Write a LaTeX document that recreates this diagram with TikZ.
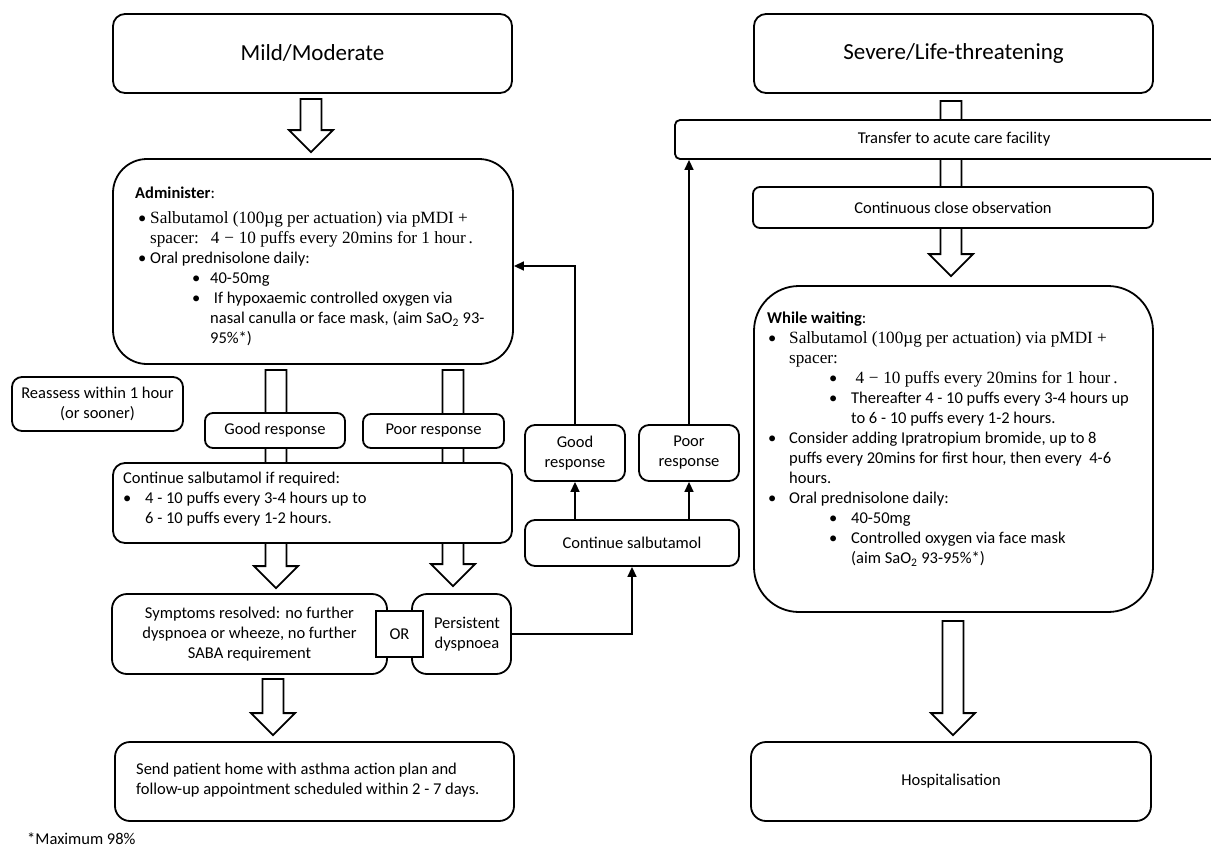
\documentclass[tikz,border=0pt]{standalone}
\usepackage{fontspec}
\setmainfont{Carlito}
\newfontfamily\cambriafont{Liberation Serif}
\usetikzlibrary{arrows.meta,calc,backgrounds}
\newcommand\sr{\cambriafont\fontsize{17.2}{20}\selectfont}
\newcommand\bitem[3]{\hspace*{#1}\makebox[#2][l]{•}#3}
\newcommand\bcont[2]{\hspace*{#1}#2}
\newcommand\blockarrow[2]{%
  \path[barrow] let \p1=(#1), \p2=(#2) in
  (\x1-10.5pt,\y1) -- (\x1+10.5pt,\y1) -- (\x1+10.5pt,\y2+22pt) -- (\x1+22pt,\y2+22pt)
  -- (\x1,\y2) -- (\x1-22pt,\y2+22pt) -- (\x1-10.5pt,\y2+22pt) -- cycle;}
\tikzset{
  box/.style={draw, line width=1.8pt, fill=white, rounded corners=#1, inner sep=0pt},
  box/.default=12pt,
  body/.style={font=\fontsize{16.5}{20}\selectfont},
  head/.style={font=\fontsize{23}{28}\selectfont},
  barrow/.style={draw, line width=1.8pt, fill=white, line join=miter},
  arr/.style={line width=1.5pt, -{Triangle[length=10pt,width=9pt]}},
  txt/.style={body, anchor=north west, align=left, inner sep=0pt}
}
\begin{document}
\begin{tikzpicture}[x=1pt,y=-1pt]
\useasboundingbox (0,0) rectangle (1211,849);
\clip (0,0) rectangle (1211,849);

% left column
\node[box=12pt, head, minimum width=399pt, minimum height=79pt] (mild) at (312.5,53.5) {Mild/Moderate};
\node[box=34pt, minimum width=400pt, minimum height=205pt] (admin) at (313,261.5) {};
\node[txt] (admintext) at (135,187) {\textbf{Administer}:\\[5pt]
\bitem{3pt}{12pt}{\sr Salbutamol (100µg per actuation) via pMDI +}\\
\bcont{15pt}{\sr spacer:\hspace{12pt}4\;−\;10 puffs every 20mins for 1 hour\,.}\\
\bitem{3pt}{12pt}{Oral prednisolone daily:}\\
\bitem{57pt}{18pt}{40-50mg}\\
\bitem{57pt}{18pt}{\ If hypoxaemic controlled oxygen via}\\
\bcont{75pt}{nasal canulla or face mask, (aim SaO\textsubscript{2} 93-}\\
\bcont{75pt}{95\%*)}};
\node[box=10pt, body, align=center, minimum width=171pt, minimum height=54pt] (reassess) at (97.5,404) {Reassess within 1 hour\\(or sooner)};
\node[box=8pt, body, minimum width=140pt, minimum height=35pt] (goodl) at (275,430.5) {Good response};
\node[box=8pt, body, minimum width=141pt, minimum height=34pt] (poorl) at (433.5,431) {Poor response};
\node[box=12pt, minimum width=399pt, minimum height=80pt] (contreq) at (312.5,503) {};
\node[txt] (contreqtext) at (123,472) {Continue salbutamol if required:\\
\bitem{0pt}{22pt}{4 - 10 puffs every 3-4 hours up to}\\
\bcont{22pt}{6 - 10 puffs every 1-2 hours.}};
\node[box=15pt, body, align=center, minimum width=275pt, minimum height=80pt] (symp) at (249.5,634) {Symptoms resolved: no further\\dyspnoea or wheeze, no further\\SABA requirement};
\node[box=15pt, body, align=center, minimum width=99pt, minimum height=80pt] (persist) at (461.5,634) {\hspace*{11pt}Persistent\\\hspace*{11pt}dyspnoea};
\node[box=0pt, body, minimum width=47pt, minimum height=46pt] (orbox) at (399.5,634) {OR};
\node[box=15pt, minimum width=399pt, minimum height=79pt] (send) at (314.5,781.5) {};
\node[txt] (sendtext) at (136,763) {Send patient home with asthma action plan and\\follow-up appointment scheduled within 2 - 7 days.};
\node[body, anchor=west, inner sep=0pt] (foot) at (27,839) {*Maximum 98\%};

% middle column
\node[box=10pt, body, align=center, minimum width=100pt, minimum height=56pt] (goodm) at (575,453) {Good\\response};
\node[box=10pt, body, align=center, minimum width=100pt, minimum height=56pt] (poorm) at (689,453) {Poor\\response};
\node[box=10pt, body, minimum width=214pt, minimum height=46pt] (contsal) at (632,543) {Continue salbutamol};

% right column
\node[box=12pt, head, minimum width=399pt, minimum height=79pt] (severe) at (953.5,53.5) {Severe/Life-threatening};
\node[box=5pt, body, minimum width=558pt, minimum height=39pt] (transfer) at (954,139.5) {Transfer to acute care facility};
\node[box=7pt, body, minimum width=400pt, minimum height=41pt] (contobs) at (953,207.5) {Continuous close observation};
\node[box=45pt, minimum width=399pt, minimum height=326pt] (wait) at (953.5,449) {};
\node[txt] (waittext) at (767,312) {\textbf{While waiting}:\\
\bitem{1pt}{21pt}{\sr Salbutamol (100µg per actuation) via pMDI +}\\
\bcont{22pt}{\sr spacer:}\\
\bitem{62pt}{22pt}{\sr\ 4\;−\;10 puffs every 20mins for 1 hour\,.}\\
\bitem{62pt}{22pt}{Thereafter 4 - 10 puffs every 3-4 hours up}\\
\bcont{84pt}{to 6 - 10 puffs every 1-2 hours.}\\
\bitem{1pt}{21pt}{Consider adding Ipratropium bromide, up to 8}\\
\bcont{22pt}{puffs every 20mins for first hour, then every\ \ 4-6}\\
\bcont{22pt}{hours.}\\
\bitem{1pt}{21pt}{Oral prednisolone daily:}\\
\bitem{62pt}{22pt}{40-50mg}\\
\bitem{62pt}{22pt}{Controlled oxygen via face mask}\\
\bcont{84pt}{(aim SaO\textsubscript{2} 93-95\%*)}};
\node[box=15pt, body, minimum width=400pt, minimum height=79pt] (hosp) at (951,781.5) {Hospitalisation};

% block arrows behind the boxes
\begin{scope}[on background layer]
\blockarrow{$(mild.south)+(-1.5,5)$}{$(admin.north)+(0,-6)$}
\blockarrow{$(goodl.center |- admin.south)+(1,5)$}{$(symp.north)+(0,-5)$}
\blockarrow{$(admin.south)+(140,5)$}{$(persist.north)+(0,-7)$}
\blockarrow{$(symp.south)+(23.5,4)$}{$(send.north)+(0,-6)$}
\blockarrow{$(severe.south)+(-2.5,7)$}{$(wait.north)+(0,-9)$}
\blockarrow{$(wait.south)+(-0.5,8)$}{$(hosp.north)+(0,-6)$}
\end{scope}

% thin connectors
\draw[arr] (persist.east) -| (contsal.south);
\draw[arr] (goodm.south |- contsal.north) -- (goodm.south);
\draw[arr] (poorm.south |- contsal.north) -- (poorm.south);
\draw[arr] (goodm.north) |- ($(admin.east)+(0,4.5)$);
\draw[arr] (poorm.north) -- (poorm.north |- transfer.south);
\end{tikzpicture}
\end{document}
